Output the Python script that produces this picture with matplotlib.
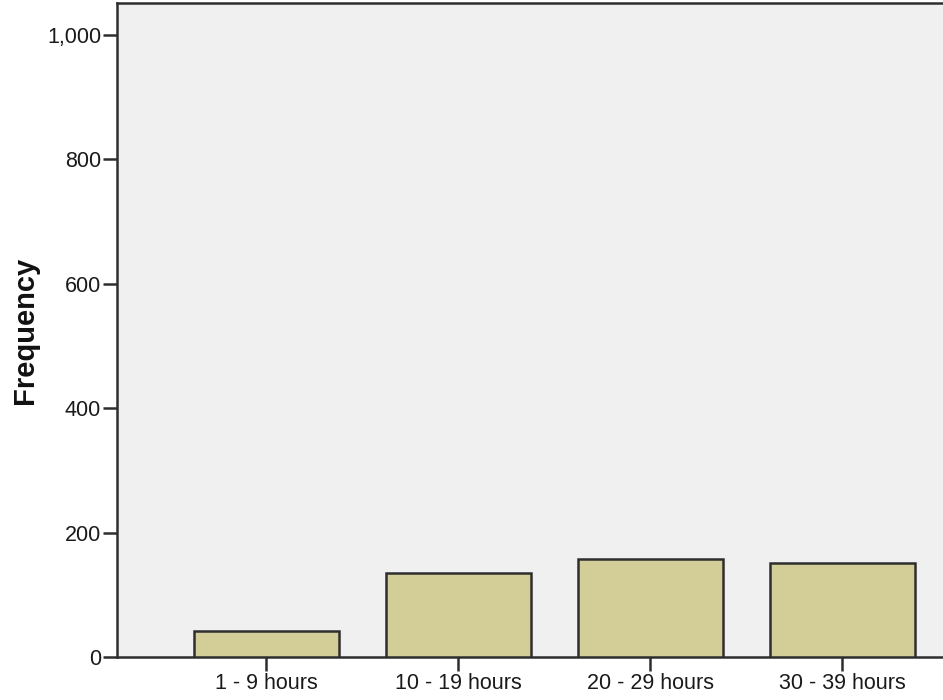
import numpy as np
import matplotlib.pyplot as plt

# categories and counts
categories = ["1 - 9 hours", "10 - 19 hours", "20 - 29 hours", "30 - 39 hours"]
counts = [42, 135, 157, 151]
yticks = [0, 200, 400, 600, 800, 1000]
ytick_labels = ["0", "200", "400", "600", "800", "1,000"]

plt.rcParams['font.family'] = ['Liberation Sans', 'DejaVu Sans']

fig = plt.figure(figsize=(9.43, 7), dpi=100)
ax = fig.add_axes([117/943, 43/700, 826/943, 654/700])
ax.set_facecolor("#F0F0F0")

x = np.arange(len(categories))
ax.bar(x, counts, width=0.755, color="#D3CE97", edgecolor="#2E2E2E", linewidth=1.8, zorder=3)

ax.set_xlim(-0.776, 3.525)
ax.set_ylim(0, 1051)
ax.set_xticks(x)
ax.set_xticklabels(categories, fontsize=15.5, color="#1A1A1A")
ax.set_yticks(yticks)
ax.set_yticklabels(ytick_labels, fontsize=15.5, color="#1A1A1A")
ax.tick_params(axis='both', direction='out', length=10, width=1.8, color="#2E2E2E", pad=1.5)

# y label placed directly in figure coords
fig.text(25/943, 370/700, "Frequency", rotation=90, ha='center', va='center',
         fontsize=21, fontweight='bold', color="#111111")

for side in ['left', 'bottom', 'top']:
    ax.spines[side].set_linewidth(1.8)
    ax.spines[side].set_color("#2E2E2E")
ax.spines['right'].set_visible(False)

fig.savefig("out.png", dpi=100)
